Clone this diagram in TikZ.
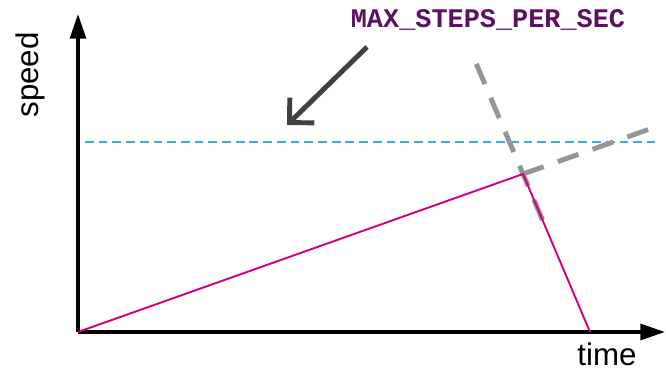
\documentclass[tikz,border=0pt]{standalone}
\usepackage{fontspec}
\setmainfont{Liberation Sans}
\newfontfamily\codefont{Liberation Mono}
\usepackage{tikz}
\usepackage{xcolor}
\usetikzlibrary{arrows.meta,calc}
\definecolor{rampcol}{HTML}{D5007F}
\definecolor{limitcol}{HTML}{3DAAE0}
\definecolor{guidecol}{HTML}{939598}
\definecolor{pointcol}{HTML}{404040}
\definecolor{macrocol}{HTML}{5E1060}
\tikzset{
  axis/.style={-{Triangle[length=14pt,width=9pt]}, line width=1.9pt, black},
  ramp/.style={rampcol, line width=1.1pt},
  limit/.style={limitcol, line width=0.85pt, dash pattern=on 5pt off 2.8pt},
  guide/.style={guidecol, line width=2.8pt, dash pattern=on 12.5pt off 8.5pt},
  pointer/.style={-{Straight Barb[length=10pt,width=20pt]}, pointcol, line width=2.8pt},
  axislabel/.style={font=\fontsize{17.8}{20}\selectfont, inner sep=0pt},
}

\begin{document}
\begin{tikzpicture}
  \useasboundingbox (-1.56,-0.78) rectangle (11.76,6.64);
  \coordinate (O) at (0,0);
  \coordinate (ytip) at (0,6.36);
  \coordinate (xtip) at (11.74,0);
  \coordinate (peak) at (8.9,3.16);
  \coordinate (stop) at (10.24,0);
  % axes
  \draw[axis] (O) -- (ytip);
  \draw[axis] (O) -- (xtip);
  \node[axislabel, rotate=90] (speed) at (-0.96,5.14) {speed};
  \node[axislabel] (time) at (10.58,-0.45) {time};
  % limit line
  \coordinate (limA) at (0.14,3.8);
  \coordinate (limB) at (11.54,3.8);
  \draw[limit] (limA) -- (limB);
  % extensions of the ramps
  \draw[guide] ($(stop)!0.709!(peak)$) -- ($(stop)!1.70!(peak)$);
  \draw[guide] (peak) -- ($(O)!1.285!(peak)$);
  % speed profile
  \draw[ramp] (O) -- (peak) -- (stop);
  % label
  \node[text=macrocol, font=\codefont\bfseries\fontsize{15.3}{18}\selectfont] (macro) at (8.2,6.24) {MAX\_STEPS\_PER\_SEC};
  \coordinate (ptail) at (5.78,5.7);
  \coordinate (phead) at (4.18,4.14);
  \draw[pointer] (ptail) -- (phead);
\end{tikzpicture}
\end{document}
